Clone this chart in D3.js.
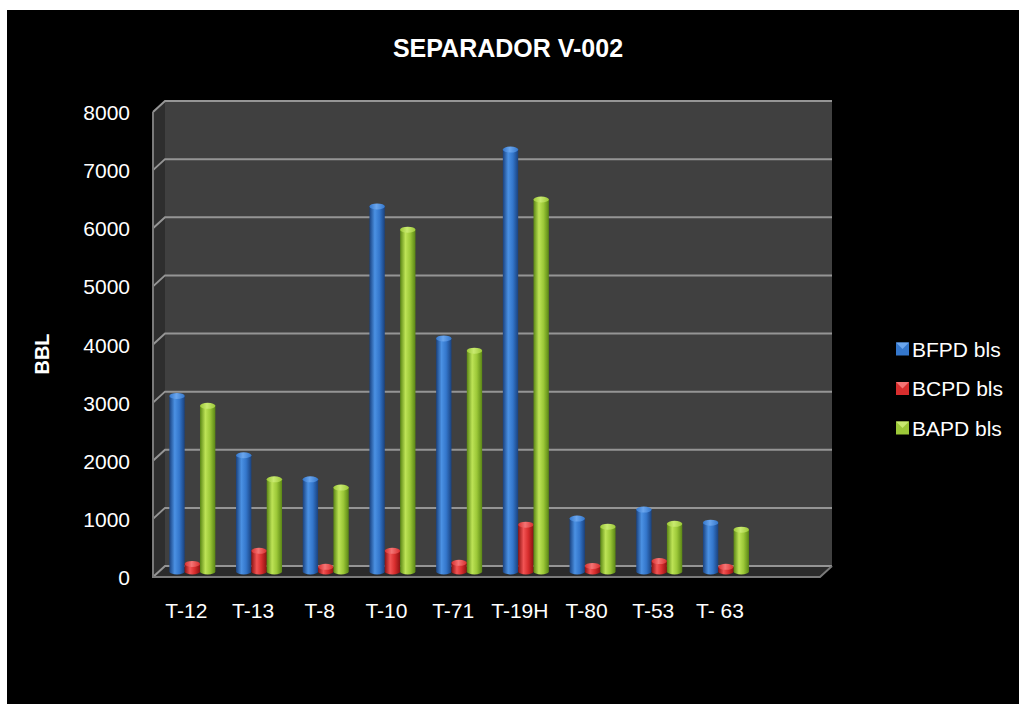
<!DOCTYPE html>
<html>
<head>
<meta charset="utf-8">
<script src="https://cdn.jsdelivr.net/npm/d3@7"></script>
<style>
  html, body { margin: 0; padding: 0; background: #ffffff; }
  svg { display: block; }
  text { font-family: "Liberation Sans", Arial, sans-serif; fill: #ffffff; }
</style>
</head>
<body>
<svg id="chart" width="1019" height="704"></svg>
<script>
// Production per well, separator V-002
const categories = ["T-12", "T-13", "T-8", "T-10", "T-71", "T-19H", "T-80", "T-53", "T- 63"];
const seriesNames = ["BFPD bls", "BCPD bls", "BAPD bls"];
const bfpd = [3020, 2000, 1585, 6280, 4010, 7260, 910, 1065, 840];
const bcpd = [130, 355, 80, 355, 150, 805, 95, 180, 80];
const bapd = [2850, 1585, 1445, 5880, 3800, 6400, 770, 820, 720];
const yTicks = [0, 1000, 2000, 3000, 4000, 5000, 6000, 7000, 8000];

const seriesValues = [bfpd, bcpd, bapd];
const palette = [
  { edge: "#1a427f", mid: "#4b91e3", body: "#3477cc", cap: "#6aa6ee" },
  { edge: "#8c1212", mid: "#f25454", body: "#d82e2e", cap: "#f47474" },
  { edge: "#5a8614", mid: "#bde356", body: "#9cc838", cap: "#c9ea70" }
];

const svg = d3.select("#chart");
svg.append("rect").attr("x", 7).attr("y", 10).attr("width", 1012).attr("height", 694).attr("fill", "#000");

// 3D box: front face plane and depth offset toward the back wall
const left = 153, right = 820;
const depthX = 12, depthY = -11;
const slots = categories.concat([""]);

const y = d3.scaleLinear().domain([0, 8000]).range([577, 112]);
const x = d3.scaleBand().domain(d3.range(slots.length)).range([left, right]).paddingInner(0).paddingOuter(0);
const groupWidth = 46;
const xs = d3.scaleBand().domain(d3.range(seriesNames.length)).range([0, groupWidth]).padding(0);

const defs = svg.append("defs");
palette.forEach((p, i) => {
  const g = defs.append("linearGradient").attr("id", "cyl" + i).attr("x1", 0).attr("x2", 1).attr("y1", 0).attr("y2", 0);
  g.append("stop").attr("offset", "0%").attr("stop-color", p.edge);
  g.append("stop").attr("offset", "35%").attr("stop-color", p.mid);
  g.append("stop").attr("offset", "65%").attr("stop-color", p.body);
  g.append("stop").attr("offset", "100%").attr("stop-color", p.edge);
  const c = defs.append("linearGradient").attr("id", "cap" + i).attr("x1", 0).attr("x2", 1).attr("y1", 0).attr("y2", 0);
  c.append("stop").attr("offset", "0%").attr("stop-color", p.body);
  c.append("stop").attr("offset", "45%").attr("stop-color", p.cap);
  c.append("stop").attr("offset", "100%").attr("stop-color", p.body);
});

const y0 = y(0), yTop = y(8000);
const bx0 = left + depthX, bx1 = right + depthX;

// side wall
svg.append("path")
  .attr("d", `M${left},${yTop}L${bx0},${yTop + depthY}L${bx0},${y0 + depthY}L${left},${y0}Z`)
  .attr("fill", "#2e2e2e");
// back wall
svg.append("rect").attr("x", bx0).attr("y", yTop + depthY).attr("width", bx1 - bx0).attr("height", y0 - yTop)
  .attr("fill", "#404040");
// floor
svg.append("path")
  .attr("d", `M${left},${y0}L${bx0},${y0 + depthY}L${bx1},${y0 + depthY}L${right},${y0}Z`)
  .attr("fill", "#2b2b2b");

// gridlines across side wall and back wall
const grid = svg.append("g").attr("stroke", "#959595").attr("stroke-width", 2).attr("fill", "none");
yTicks.forEach(t => {
  grid.append("path").attr("d", `M${left},${y(t)}L${bx0},${y(t) + depthY}L${bx1},${y(t) + depthY}`);
});
// front edges of the box
grid.append("path").attr("d", `M${left},${yTop}L${left},${y0}L${right},${y0}L${bx1},${y0 + depthY}`)
  .attr("stroke", "#7a7a7a");

// y axis labels
const yAxis = svg.append("g").attr("transform", `translate(${left},0)`)
  .call(d3.axisLeft(y).tickValues(yTicks).tickSize(0).tickPadding(23).tickFormat(d3.format("d")));
yAxis.select(".domain").remove();
yAxis.selectAll("text").attr("fill", "#fff").style("font-size", "21px").attr("dy", "0.36em");

// x axis labels
const xAxis = svg.append("g").attr("transform", `translate(0,${y0})`)
  .call(d3.axisBottom(x).tickSize(0).tickPadding(26).tickFormat(i => slots[i]));
xAxis.select(".domain").remove();
xAxis.selectAll("text").attr("fill", "#fff").style("font-size", "21px");

// cylinders, placed midway between front face and back wall
const midX = depthX / 2, midY = depthY / 2;
const ry = 3;
const bars = [];
categories.forEach((c, ci) => {
  seriesValues.forEach((vals, si) => {
    bars.push({ ci, si, v: vals[ci] });
  });
});
const barW = xs.bandwidth();
const gBars = svg.append("g");
const barG = gBars.selectAll("g.bar").data(bars).join("g").attr("class", "bar")
  .attr("transform", d => {
    const gx = x(d.ci) + (x.bandwidth() - groupWidth) / 2 + midX + xs(d.si);
    return `translate(${gx},${midY})`;
  });
barG.append("path")
  .attr("d", d => {
    const top = y(d.v), bot = y(0);
    return `M0,${top}L0,${bot}A${barW / 2},${ry} 0 0 0 ${barW},${bot}L${barW},${top}Z`;
  })
  .attr("fill", d => `url(#cyl${d.si})`);
barG.append("ellipse")
  .attr("cx", barW / 2).attr("cy", d => y(d.v)).attr("rx", barW / 2).attr("ry", ry)
  .attr("fill", d => `url(#cap${d.si})`);

// title
svg.append("text").attr("x", 508).attr("y", 57).attr("text-anchor", "middle")
  .style("font-size", "25px").style("font-weight", "bold").text("SEPARADOR V-002");

// y axis title
svg.append("text").attr("transform", "translate(49,354) rotate(-90)").attr("text-anchor", "middle")
  .style("font-size", "20px").style("font-weight", "bold").text("BBL");

// legend
const legend = svg.append("g").selectAll("g").data(seriesNames).join("g")
  .attr("transform", (d, i) => `translate(896,${349 + i * 39.5})`);
legend.append("rect").attr("x", 0).attr("y", -6.5).attr("width", 13).attr("height", 13)
  .attr("fill", (d, i) => palette[i].body);
legend.append("path").attr("d", "M0,-6.5L13,-6.5L6.5,0Z")
  .attr("fill", (d, i) => palette[i].cap);
legend.append("text").attr("x", 16).attr("y", 0).attr("dy", "0.36em")
  .style("font-size", "21px").text(d => d);
</script>
</body>
</html>
